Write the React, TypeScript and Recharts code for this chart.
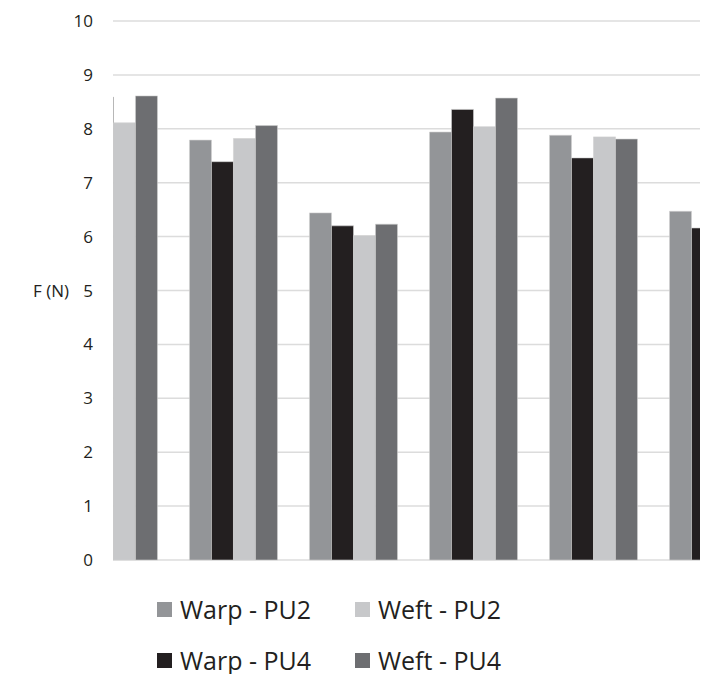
import { Bar, BarChart, CartesianGrid, XAxis, YAxis } from "recharts";

// sample groups (1..6); the picture is cropped on both sides
const GROUPS = [1, 2, 3, 4, 5, 6];
const WARP_PU2 = [8.3, 7.79, 6.44, 7.94, 7.88, 6.47];
const WARP_PU4 = [8.59, 7.39, 6.2, 8.36, 7.46, 6.16];
const WEFT_PU2 = [8.11, 7.82, 6.02, 8.04, 7.85, 6.1];
const WEFT_PU4 = [8.61, 8.06, 6.23, 8.57, 7.81, 6.2];
const Y_TICKS = [0, 1, 2, 3, 4, 5, 6, 7, 8, 9, 10];

const SERIES = [
  { key: "warpPu2", name: "Warp - PU2", color: "#939598" },
  { key: "weftPu2", name: "Weft - PU2", color: "#c7c8ca" },
  { key: "warpPu4", name: "Warp - PU4", color: "#231f20" },
  { key: "weftPu4", name: "Weft - PU4", color: "#6d6e71" },
];
// bar order inside a group
const BAR_ORDER = ["warpPu2", "warpPu4", "weftPu2", "weftPu4"];

const data = GROUPS.map((g, i) => ({
  group: g,
  warpPu2: WARP_PU2[i],
  warpPu4: WARP_PU4[i],
  weftPu2: WEFT_PU2[i],
  weftPu4: WEFT_PU4[i],
}));

const FONT = "'Open Sans', 'Noto Sans', sans-serif";

export default function App() {
  return (
    <div style={{ width: 700, fontFamily: FONT }}>
      <BarChart
        width={700}
        height={566}
        data={data}
        margin={{ top: 13, right: 0, bottom: 14, left: 0 }}
        barSize={22}
        barGap={0}
      >
        <CartesianGrid vertical={false} stroke="#dcdcdc" strokeWidth={1.5} />
        <XAxis
          type="number"
          dataKey="group"
          domain={[0.996, 5.954]}
          ticks={GROUPS}
          allowDataOverflow
          hide
        />
        <YAxis
          width={105}
          domain={[0, 10]}
          ticks={Y_TICKS}
          interval={0}
          tickLine={false}
          axisLine={false}
          tickMargin={14}
          tick={{ fontSize: 17, fill: "#231f20", fontFamily: FONT }}
          label={{
            value: "F (N)",
            position: "insideLeft",
            offset: 25,
            style: { fontSize: 17, fill: "#231f20", fontFamily: FONT },
          }}
        />
        {BAR_ORDER.map((k) => {
          const s = SERIES.find((x) => x.key === k)!;
          return (
            <Bar
              key={k}
              dataKey={k}
              name={s.name}
              fill={s.color}
              stroke="#d0d0d0"
              strokeWidth={0.6}
              isAnimationActive={false}
            />
          );
        })}
      </BarChart>
      <div
        style={{
          display: "grid",
          gridTemplateColumns: "198px 200px",
          rowGap: 23,
          marginLeft: 149,
          marginTop: 21,
        }}
      >
        {SERIES.map((s) => (
          <LegendItem key={s.key} color={s.color} label={s.name} />
        ))}
      </div>
    </div>
  );
}

function LegendItem({ color, label }: { color: string; label: string }) {
  return (
    <span
      style={{
        display: "flex",
        alignItems: "center",
        gap: 8,
        fontSize: 25,
        lineHeight: "28px",
        color: "#231f20",
        whiteSpace: "nowrap",
      }}
    >
      <span style={{ width: 15, height: 15, background: color, flexShrink: 0 }} />
      {label}
    </span>
  );
}
